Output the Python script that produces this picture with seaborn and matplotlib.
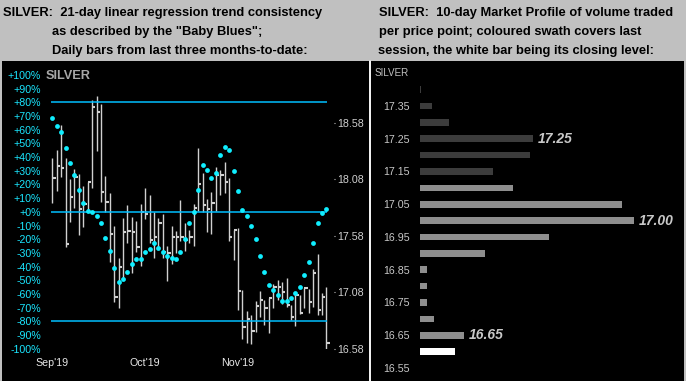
import matplotlib
matplotlib.use("Agg")
import matplotlib.pyplot as plt
import numpy as np
import pandas as pd
import seaborn as sns

# ---------------- data ----------------
month_labels = ["Sep'19", "Oct'19", "Nov'19"]
month_pos = [0, 21, 42]

high = [18.27, 18.34, 18.56, 18.27, 18.08, 18.17, 18.13, 18.02, 18.06, 18.78,
        18.82, 18.75, 18.11, 17.96, 17.67, 17.38, 17.74, 17.85, 17.75, 17.71,
        17.86, 18.00, 17.94, 17.79, 17.74, 17.77, 17.49, 17.67, 17.62, 17.90,
        17.69, 17.63, 17.86, 18.36, 18.14, 17.91, 17.97, 18.19, 18.16, 18.23,
        18.09, 17.63, 17.65, 17.10, 16.91, 16.88, 17.00, 17.09, 17.01, 17.03,
        17.15, 17.19, 17.17, 17.21, 16.97, 17.06, 17.06, 17.12, 17.11, 17.29,
        17.42, 17.07, 17.13]
low = [17.87, 17.98, 18.10, 17.48, 17.70, 17.83, 17.59, 17.66, 17.81, 18.00,
       18.33, 17.88, 17.79, 17.35, 16.99, 16.94, 17.20, 17.52, 17.25, 17.44,
       17.31, 17.73, 17.52, 17.38, 17.46, 17.38, 17.18, 17.33, 17.43, 17.53,
       17.45, 17.52, 17.49, 17.80, 17.79, 17.61, 17.60, 17.80, 17.94, 17.96,
       17.53, 17.37, 16.92, 16.67, 16.63, 16.62, 16.73, 16.86, 16.79, 16.72,
       16.94, 17.01, 16.98, 16.95, 16.83, 16.78, 16.89, 16.94, 16.90, 16.95,
       16.88, 16.88, 16.58]
close = [18.09, 18.20, 18.18, 17.51, 17.92, 18.10, 17.82, 17.86, 18.06, 18.72,
         18.68, 17.97, 17.88, 17.60, 17.04, 17.30, 17.61, 17.62, 17.61, 17.48,
         17.79, 17.77, 17.54, 17.57, 17.69, 17.44, 17.43, 17.57, 17.57, 17.57,
         17.54, 17.57, 17.83, 18.04, 17.85, 17.82, 17.87, 18.12, 18.12, 18.06,
         17.57, 17.63, 17.09, 16.77, 16.84, 16.74, 16.96, 17.01, 16.94, 17.03,
         17.13, 17.13, 17.08, 16.97, 16.86, 17.06, 16.90, 17.12, 16.99, 17.25,
         16.92, 17.04, 16.63]
baby_blues = [68.7, 62.8, 58.0, 46.3, 36.0, 27.0, 16.3, 6.8, 0.7, 0.0,
              -2.9, -8.5, -19.0, -28.3, -40.7, -50.9, -49.4, -43.6, -37.8, -34.1,
              -34.1, -29.7, -26.8, -23.1, -26.1, -29.0, -31.9, -33.4, -34.8, -29.7,
              -20.2, -8.5, 0.2, 16.3, 33.9, 30.9, 25.1, 28.7, 41.2, 47.7,
              45.5, 29.5, 14.9, 1.0, -2.7, -10.7, -20.2, -32.6, -43.6, -53.1,
              -56.8, -61.1, -65.0, -65.5, -62.6, -59.0, -54.6, -46.5, -37.0, -23.1,
              -8.5, -0.5, 2.4]
pct_ticks = list(range(-100, 101, 10))
price_ticks = [16.58, 17.08, 17.58, 18.08, 18.58]
band_levels = [80, 0, -80]

profile_price = [17.40, 17.35, 17.30, 17.25, 17.20, 17.15, 17.10, 17.05, 17.00,
                 16.95, 16.90, 16.85, 16.80, 16.75, 16.70, 16.65, 16.60]
profile_volume = [1, 12, 29, 113, 110, 73, 93, 202, 214, 129, 65, 7, 7, 7, 14, 44, 35]
profile_session = ["prior"] * 6 + ["last"] * 10 + ["close"]
profile_tick_prices = [17.35, 17.25, 17.15, 17.05, 16.95, 16.85, 16.75, 16.65, 16.55]
profile_callouts = [17.25, 17.00, 16.65]

# ---------------- layout helpers ----------------
W, H = 686, 381


def fx(px):
    return px / W


def fy(py):
    return 1 - py / H


def rect(x0, y0, x1, y1):
    return [fx(x0), fy(y1), (x1 - x0) / W, (y1 - y0) / H]


sns.set_theme(style="white")
plt.rcParams['font.family'] = ['Liberation Sans', 'DejaVu Sans']

fig = plt.figure(figsize=(6.86, 3.81), dpi=100, facecolor='#C0C0C0')

for r in [rect(2, 61, 368.5, 381), rect(370.5, 61, 684, 381)]:
    bg = fig.add_axes(r)
    bg.set_facecolor('black')
    bg.set_xticks([])
    bg.set_yticks([])
    for s in bg.spines.values():
        s.set_visible(False)
fig.add_artist(plt.Line2D([fx(369.5)] * 2, [fy(61), fy(381)], color='white', lw=1.1))

# ---------------- titles ----------------
tkw = dict(fontsize=9.3, fontweight='bold', color='black', va='baseline', ha='left')
fig.text(fx(3.3), fy(16), "SILVER:  21-day linear regression trend consistency", **tkw)
fig.text(fx(51.7), fy(35.5), "as described by the \"Baby Blues\";", **tkw)
fig.text(fx(51.7), fy(54.3), "Daily bars from last three months-to-date:", **tkw)
fig.text(fx(379), fy(16), "SILVER:  10-day Market Profile of volume traded", **tkw)
fig.text(fx(379), fy(35.5), "per price point; coloured swath covers last", **tkw)
fig.text(fx(378), fy(54.3), "session, the white bar being its closing level:", **tkw)

# ---------------- left chart ----------------
left_rect = rect(44, 75, 334, 348.7)
ax_price = fig.add_axes(left_rect)
ax_price.patch.set_alpha(0)
x = np.arange(len(close))
ax_price.vlines(x, low, high, color='#D0D0D0', lw=1.0, zorder=1)
ax_price.hlines(close, x, x + 0.75, color='#D0D0D0', lw=1.5, zorder=1)
ax_price.set_xlim(-1.88, 63.73)
ax_price.set_ylim(16.58, 19.005)
ax_price.yaxis.tick_right()
ax_price.set_yticks(price_ticks)
ax_price.set_yticklabels([f"{p:.2f}" for p in price_ticks])
ax_price.tick_params(axis='y', colors='#D0D0D0', labelcolor='#D0D0D0', labelsize=7.7,
                     length=1.0, width=0.8, pad=1.2)
ax_price.tick_params(axis='x', labelbottom=False, length=0)
for s in ax_price.spines.values():
    s.set_visible(False)

ax_pct = fig.add_axes(left_rect, sharex=ax_price)
ax_pct.patch.set_alpha(0)
ax_pct.hlines(band_levels, -0.3, 62.1, color='#00BFFF', lw=1.1, zorder=2)
sns.scatterplot(x=x, y=baby_blues, ax=ax_pct, color='#10EEFF', s=12, linewidth=0, zorder=3)
ax_pct.set_ylim(-100, 100)
ax_pct.set_xlim(-1.88, 63.73)
ax_pct.set_yticks(pct_ticks)
ax_pct.set_yticklabels([f"{v:+d}%" for v in pct_ticks])
ax_pct.set_xticks(month_pos)
ax_pct.set_xticklabels(month_labels)
ax_pct.tick_params(axis='y', labelcolor='#1AE6FF', labelsize=7.7, length=0, pad=2.2)
ax_pct.tick_params(axis='x', labelcolor='#E8E8E8', labelsize=7.7, length=0, pad=7)
ax_pct.set_xlabel('')
ax_pct.set_ylabel('')
for s in ax_pct.spines.values():
    s.set_visible(False)
fig.text(fx(45.7), fy(75.7), 'SILVER', color='#A8A8A8', fontsize=9.2,
         fontweight='bold', va='center', ha='left')

# ---------------- right chart (market profile) ----------------
ax_prof = fig.add_axes(rect(420, 78, 684, 375))
ax_prof.patch.set_alpha(0)
df = pd.DataFrame({'price': profile_price, 'volume': profile_volume,
                   'session': profile_session})
sns.barplot(data=df, x='volume', y='price', hue='session',
            palette={'prior': '#3C3C3C', 'last': '#8E8E8E', 'close': '#FFFFFF'},
            orient='h', native_scale=True, dodge=False, width=0.41,
            errorbar=None, legend=False, linewidth=0, ax=ax_prof)
ax_prof.set_xlim(0, 264)
ax_prof.set_ylim(16.5286, 17.4355)
ax_prof.set_xticks([])
ax_prof.set_yticks(profile_tick_prices)
ax_prof.set_yticklabels([f"{p:.2f}" for p in profile_tick_prices])
ax_prof.tick_params(axis='y', labelcolor='#C8C8C8', labelsize=7.7, length=0, pad=7.2)
ax_prof.set_xlabel('')
ax_prof.set_ylabel('')
for s in ax_prof.spines.values():
    s.set_visible(False)
vol_by_price = dict(zip(profile_price, profile_volume))
for p in profile_callouts:
    ax_prof.annotate(f"{p:.2f}", (vol_by_price[p], p), xytext=(5, 0),
                     textcoords='offset pixels', ha='left', va='center',
                     fontsize=10, fontweight='bold', fontstyle='italic', color='#C8C8C8')
fig.text(fx(375), fy(73.3), 'SILVER', color='#C0C0C0', fontsize=7.1, va='center', ha='left')

fig.savefig('out.png', dpi=100, facecolor=fig.get_facecolor())
